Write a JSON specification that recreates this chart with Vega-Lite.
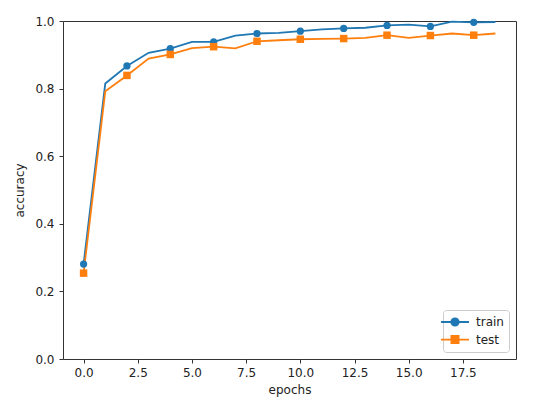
{
  "$schema": "https://vega.github.io/schema/vega-lite/v6.json",
  "autosize": "none",
  "padding": {"left": 63, "top": 21, "right": 38, "bottom": 50},
  "width": 453,
  "height": 338,
  "background": "white",
  "config": {
    "font": "DejaVu Sans",
    "view": {"stroke": "#333333", "strokeWidth": 1},
    "axis": {
      "grid": false,
      "domain": false,
      "tickColor": "#333333",
      "tickSize": 4,
      "labelFontSize": 12,
      "labelColor": "#222222",
      "titleFontSize": 12,
      "titleFontWeight": "normal",
      "titleColor": "#222222"
    },
    "legend": {
      "orient": "bottom-right",
      "offset": 7,
      "padding": 5,
      "rowPadding": 1.6,
      "strokeColor": "#cccccc",
      "fillColor": "white",
      "cornerRadius": 3,
      "labelFontSize": 12,
      "labelColor": "#222222",
      "symbolSize": 144,
      "symbolOffset": 0,
      "labelOffset": 14,
      "symbolStrokeWidth": 1.8,
      "symbolOpacity": 1
    }
  },
  "data": {
    "values": [
      {"epoch": 0, "series": "train", "acc": 0.281},
      {"epoch": 1, "series": "train", "acc": 0.815},
      {"epoch": 2, "series": "train", "acc": 0.867},
      {"epoch": 3, "series": "train", "acc": 0.906},
      {"epoch": 4, "series": "train", "acc": 0.918},
      {"epoch": 5, "series": "train", "acc": 0.938},
      {"epoch": 6, "series": "train", "acc": 0.938},
      {"epoch": 7, "series": "train", "acc": 0.957},
      {"epoch": 8, "series": "train", "acc": 0.963},
      {"epoch": 9, "series": "train", "acc": 0.965},
      {"epoch": 10, "series": "train", "acc": 0.970},
      {"epoch": 11, "series": "train", "acc": 0.975},
      {"epoch": 12, "series": "train", "acc": 0.978},
      {"epoch": 13, "series": "train", "acc": 0.980},
      {"epoch": 14, "series": "train", "acc": 0.987},
      {"epoch": 15, "series": "train", "acc": 0.989},
      {"epoch": 16, "series": "train", "acc": 0.984},
      {"epoch": 17, "series": "train", "acc": 0.998},
      {"epoch": 18, "series": "train", "acc": 0.996},
      {"epoch": 19, "series": "train", "acc": 0.997},
      {"epoch": 0, "series": "test", "acc": 0.254},
      {"epoch": 1, "series": "test", "acc": 0.792},
      {"epoch": 2, "series": "test", "acc": 0.839},
      {"epoch": 3, "series": "test", "acc": 0.889},
      {"epoch": 4, "series": "test", "acc": 0.901},
      {"epoch": 5, "series": "test", "acc": 0.920},
      {"epoch": 6, "series": "test", "acc": 0.924},
      {"epoch": 7, "series": "test", "acc": 0.919},
      {"epoch": 8, "series": "test", "acc": 0.940},
      {"epoch": 9, "series": "test", "acc": 0.943},
      {"epoch": 10, "series": "test", "acc": 0.946},
      {"epoch": 11, "series": "test", "acc": 0.947},
      {"epoch": 12, "series": "test", "acc": 0.948},
      {"epoch": 13, "series": "test", "acc": 0.950},
      {"epoch": 14, "series": "test", "acc": 0.958},
      {"epoch": 15, "series": "test", "acc": 0.950},
      {"epoch": 16, "series": "test", "acc": 0.957},
      {"epoch": 17, "series": "test", "acc": 0.963},
      {"epoch": 18, "series": "test", "acc": 0.958},
      {"epoch": 19, "series": "test", "acc": 0.963}
    ]
  },
  "encoding": {
    "x": {
      "field": "epoch",
      "type": "quantitative",
      "title": "epochs",
      "scale": {"domain": [-0.95, 19.95], "nice": false, "zero": false},
      "axis": {"values": [0, 2.5, 5, 7.5, 10, 12.5, 15, 17.5], "format": ".1f", "labelPadding": 4, "titlePadding": 6}
    },
    "y": {
      "field": "acc",
      "type": "quantitative",
      "title": "accuracy",
      "scale": {"domain": [0, 1], "nice": false},
      "axis": {"values": [0, 0.2, 0.4, 0.6, 0.8, 1.0], "format": ".1f", "labelPadding": 5, "titlePadding": 8}
    },
    "color": {
      "field": "series",
      "type": "nominal",
      "title": null,
      "scale": {"domain": ["train", "test"], "range": ["#1f77b4", "#ff7f0e"]}
    }
  },
  "layer": [
    {
      "mark": {"type": "line", "strokeWidth": 1.8},
      "encoding": {}
    },
    {
      "transform": [{"filter": "datum.series === 'train' && datum.epoch % 2 === 0"}],
      "mark": {"type": "point", "shape": "circle", "filled": true, "opacity": 1, "size": 52}
    },
    {
      "transform": [{"filter": "datum.series === 'test' && datum.epoch % 2 === 0"}],
      "mark": {"type": "point", "shape": "square", "filled": true, "opacity": 1, "size": 56}
    },
    {
      "mark": {"type": "point", "filled": true, "opacity": 0},
      "encoding": {
        "shape": {
          "field": "series",
          "type": "nominal",
          "title": null,
          "scale": {"domain": ["train", "test"], "range": ["M-2.33,0L2.33,0M0.62,0A0.62,0.62,0,1,1,-0.62,0A0.62,0.62,0,1,1,0.62,0Z", "M-2.33,0L2.33,0M-0.6,-0.6L0.6,-0.6L0.6,0.6L-0.6,0.6Z"]}
        },
        "fill": {
          "field": "series",
          "type": "nominal",
          "title": null,
          "scale": {"domain": ["train", "test"], "range": ["#1f77b4", "#ff7f0e"]}
        },
        "stroke": {
          "field": "series",
          "type": "nominal",
          "title": null,
          "scale": {"domain": ["train", "test"], "range": ["#1f77b4", "#ff7f0e"]}
        }
      }
    }
  ]
}
